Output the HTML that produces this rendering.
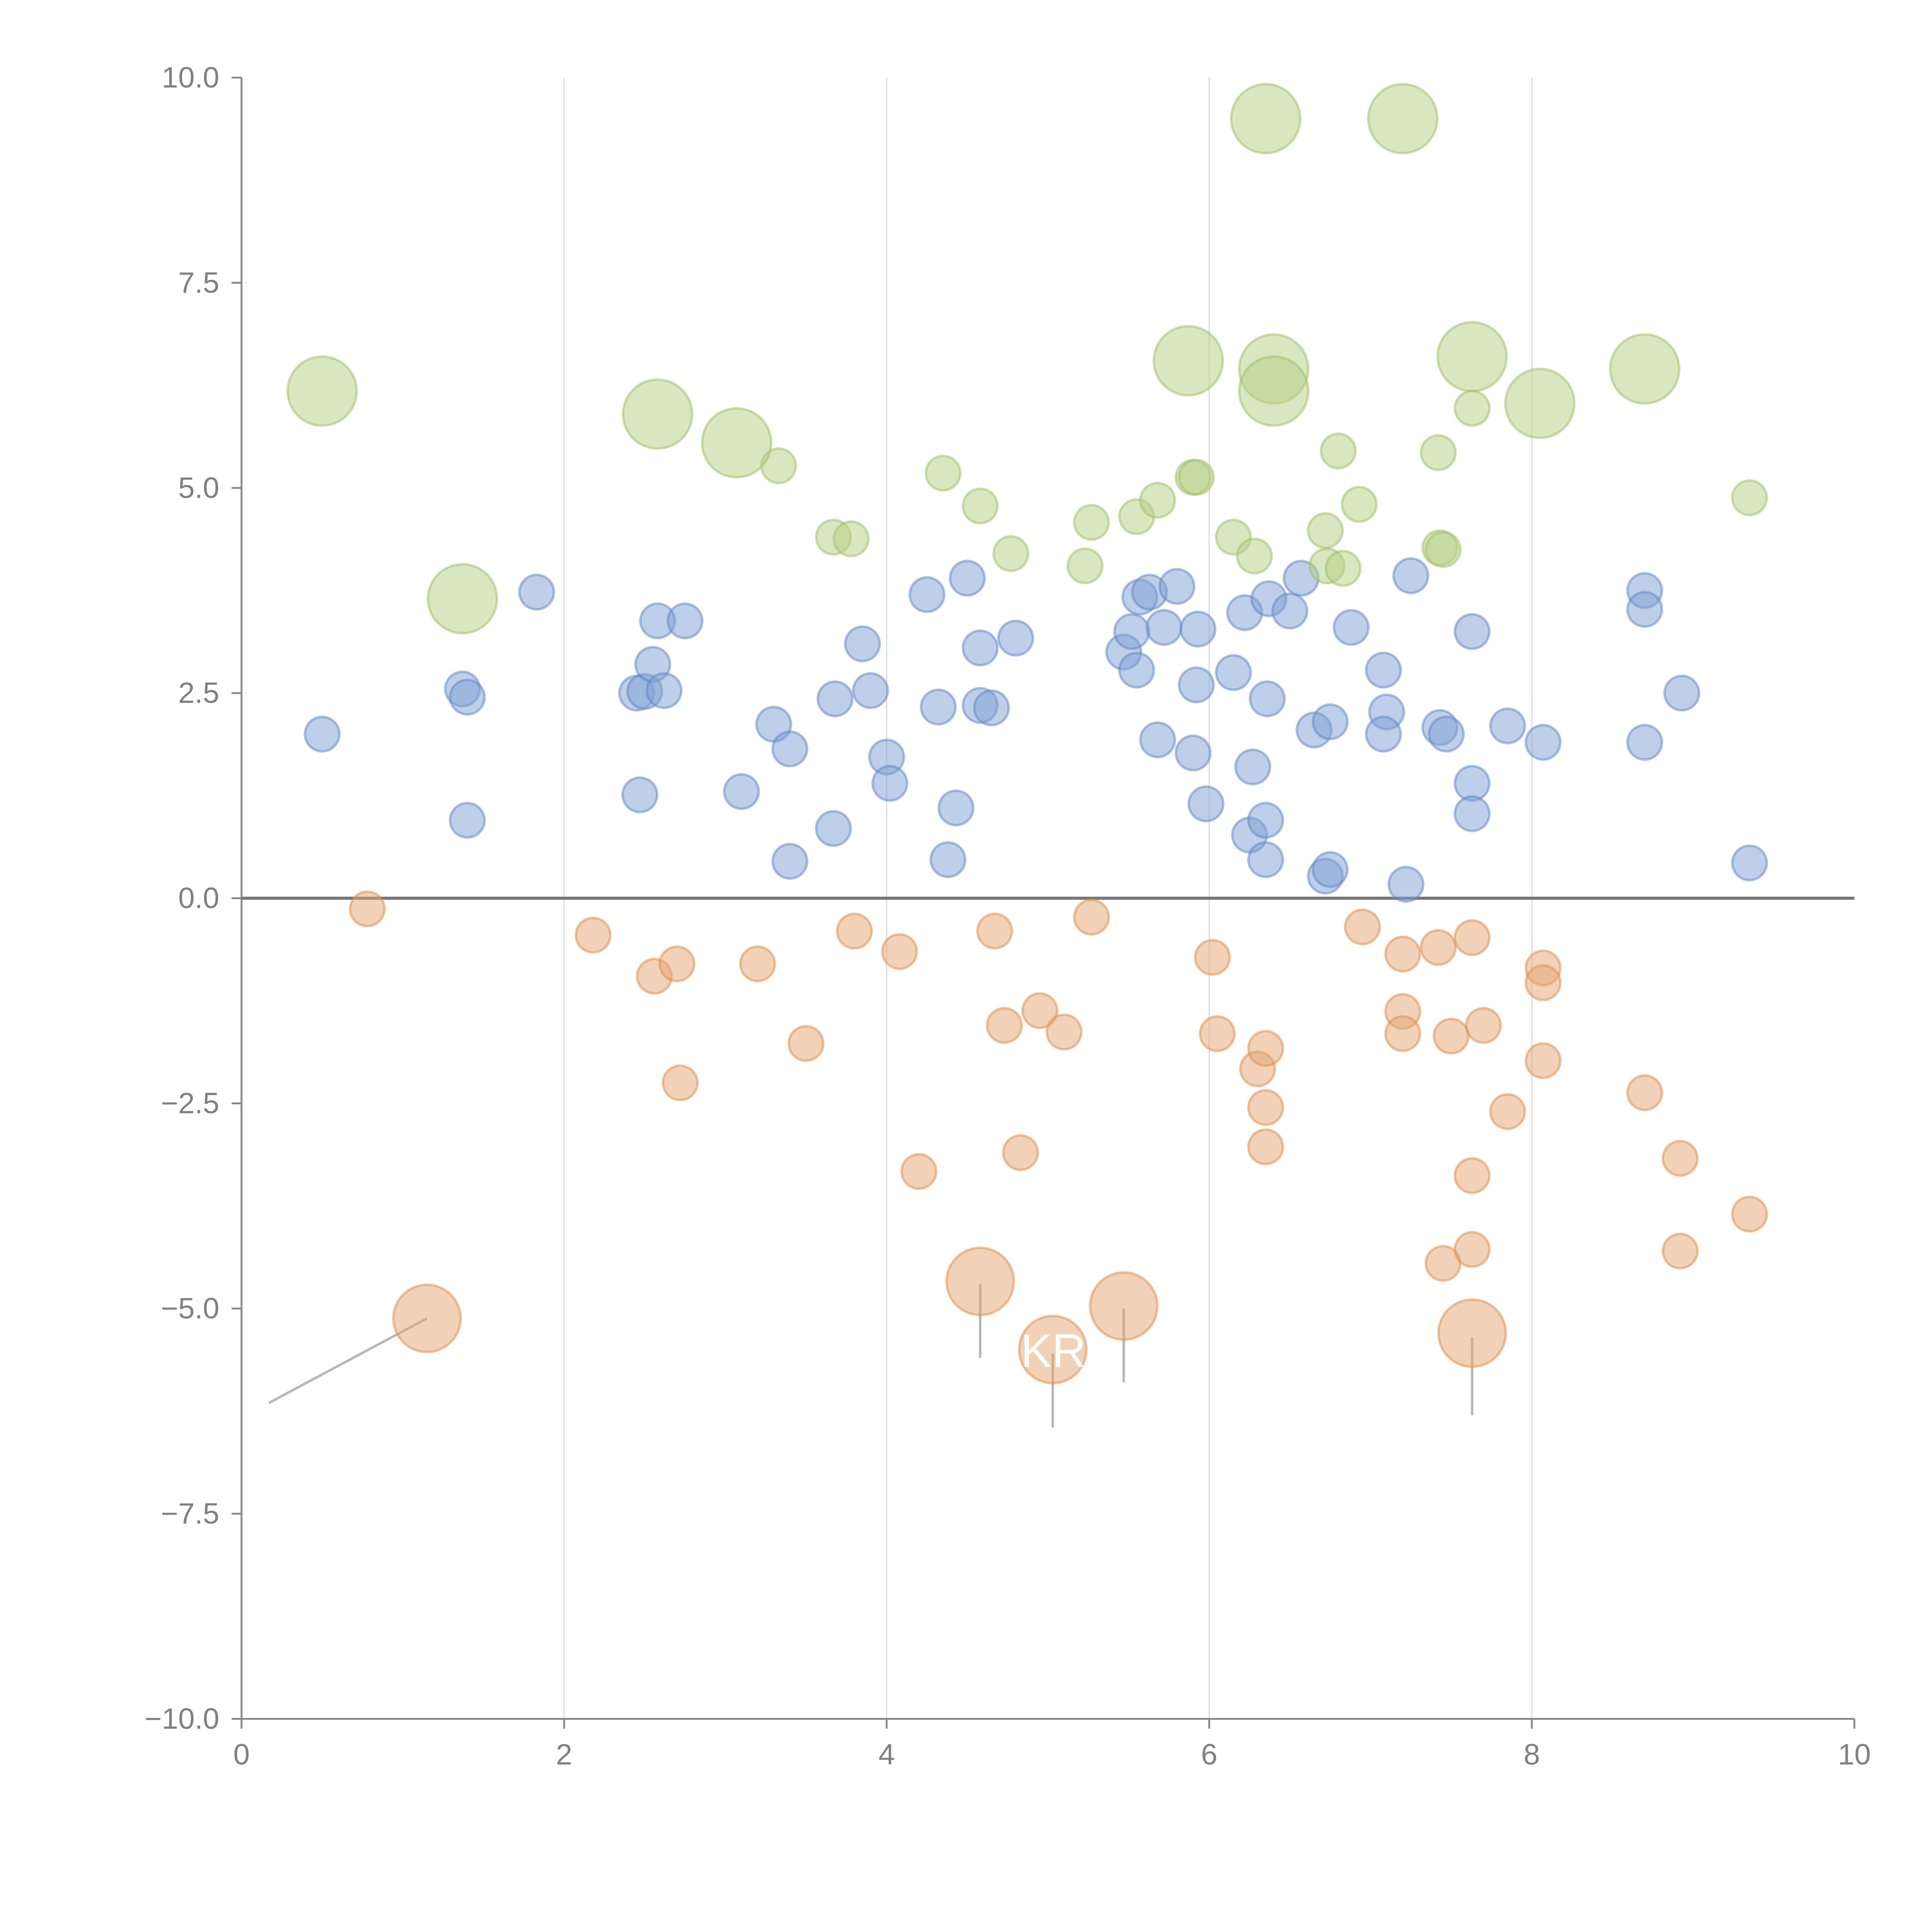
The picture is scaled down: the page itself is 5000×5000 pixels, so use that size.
<!DOCTYPE html>
<html><head><meta charset="utf-8"><style>
html,body{margin:0;padding:0;background:#fff;width:5000px;height:5000px;overflow:hidden}
svg{display:block}
text{font-family:"Liberation Sans",Arial,sans-serif}
</style></head><body>
<svg id="chart" width="5000" height="5000" viewBox="0 0 1568 1568" xmlns="http://www.w3.org/2000/svg">
<g id="grid"></g>
<g id="axes"></g>
<g id="leaders"></g>
<g id="marks"></g>
<g id="labels"></g>
</svg>
<script>
const xTicks = [0, 2, 4, 6, 8, 10];
const yTicks = [-10, -7.5, -5, -2.5, 0, 2.5, 5, 7.5, 10];
const yTickLabels = ["\u221210.0", "\u22127.5", "\u22125.0", "\u22122.5", "0.0", "2.5", "5.0", "7.5", "10.0"];

const blueX = [0.5,1.37,1.4,1.4,1.83,2.45,2.5,2.55,2.58,2.62,2.75,2.47,3.1,3.3,3.4,3.4,3.67,3.68,3.85,3.9,4.0,4.02,4.25,4.32,4.38,4.43,4.5,4.58,4.58,4.65,4.8,5.47,5.52,5.55,5.57,5.63,5.68,5.72,5.8,5.9,5.92,5.93,5.98,6.15,6.22,6.25,6.27,6.35,6.35,6.36,6.37,6.5,6.57,6.65,6.72,6.75,6.75,6.88,7.08,7.1,7.08,7.22,7.25,7.43,7.47,7.63,7.63,7.63,7.85,8.07,8.7,8.7,8.7,8.93,9.35];
const blueY = [2.0,2.55,2.45,0.95,3.73,2.5,2.52,2.85,3.38,2.53,3.38,1.26,1.3,2.12,1.82,0.45,0.85,2.43,3.1,2.53,1.72,1.4,3.7,2.33,0.47,1.1,3.9,3.05,2.35,2.32,3.17,3.0,3.25,2.78,3.67,3.73,1.93,3.3,3.8,1.77,2.6,3.28,1.15,2.75,3.48,0.77,1.6,0.47,0.95,2.43,3.65,3.5,3.9,2.05,0.27,0.35,2.15,3.3,2.78,2.27,2.0,0.17,3.93,2.08,2.0,3.25,1.4,1.03,2.1,1.9,3.75,3.52,1.9,2.5,0.43];
const blueSize = blueX.map(() => 1);

const orangeX = [0.78,2.18,2.56,2.7,2.72,3.2,3.5,3.8,4.08,4.2,4.67,4.73,4.83,4.95,5.1,5.27,6.02,6.05,6.3,6.35,6.35,6.35,6.95,7.2,7.2,7.2,7.42,7.45,7.5,7.63,7.63,7.63,7.7,7.85,8.07,8.07,8.07,8.7,8.92,8.92,9.35,1.15,4.58,5.03,5.47,7.63];
const orangeY = [-0.13,-0.45,-0.95,-0.8,-2.25,-0.8,-1.77,-0.4,-0.65,-3.33,-0.4,-1.55,-3.1,-1.37,-1.63,-0.23,-0.72,-1.65,-2.08,-1.83,-2.55,-3.03,-0.35,-0.68,-1.38,-1.65,-0.6,-4.45,-1.68,-0.48,-3.38,-4.28,-1.55,-2.6,-0.85,-1.03,-1.98,-2.37,-3.17,-4.3,-3.85,-5.12,-4.67,-5.5,-4.97,-5.3];
const orangeSize = [1,1,1,1,1,1,1,1,1,1,1,1,1,1,1,1,1,1,1,1,1,1,1,1,1,1,1,1,1,1,1,1,1,1,1,1,1,1,1,1,1,3.8,3.8,3.8,3.8,3.8];

const greenX = [3.33,3.67,3.78,4.35,4.58,4.77,5.23,5.27,5.55,5.68,5.9,5.92,6.15,6.28,6.72,6.73,6.83,6.8,6.93,7.42,7.43,7.45,7.63,9.35,0.5,1.37,2.58,3.07,5.87,6.35,6.4,6.4,7.2,7.63,8.05,8.7];
const greenY = [5.27,4.4,4.38,5.18,4.78,4.2,4.05,4.58,4.65,4.85,5.13,5.13,4.4,4.17,4.48,4.05,4.02,5.45,4.8,5.43,4.27,4.25,5.97,4.88,6.18,3.65,5.9,5.55,6.55,9.5,6.45,6.18,9.5,6.6,6.03,6.45];
const greenSize = [1,1,1,1,1,1,1,1,1,1,1,1,1,1,1,1,1,1,1,1,1,1,1,1,4,4,4,4,4,4,4,4,4,4,4,4];

const leaderX1 = [1.15,4.58,5.03,5.47,7.63];
const leaderY1 = [-5.12,-4.7,-5.55,-5.0,-5.35];
const leaderX2 = [0.17,4.58,5.03,5.47,7.63];
const leaderY2 = [-6.15,-5.6,-6.45,-5.9,-6.3];

const X0 = 196, X1 = 1505, Y0 = 1395, Y1 = 63;
const sx = v => X0 + (v - 0) / 10 * (X1 - X0);
const sy = v => Y0 - (v + 10) / 20 * (Y0 - Y1);
const rad = s => 14 * Math.sqrt(s);
const NS = "http://www.w3.org/2000/svg";
function mk(tag, attrs, parent) {
  const e = document.createElementNS(NS, tag);
  for (const k in attrs) e.setAttribute(k, attrs[k]);
  parent.appendChild(e);
  return e;
}
const grid = document.getElementById('grid');
const axes = document.getElementById('axes');
const marks = document.getElementById('marks');
const leaders = document.getElementById('leaders');
const labels = document.getElementById('labels');

xTicks.forEach(t => {
  if (t > 0 && t < 10) {
    const g = mk('line', {x1: sx(t), x2: sx(t), y1: Y1, y2: Y0, stroke: '#dcdcdc', 'stroke-width': 1}, grid);
    
    
  }
  const tk = mk('line', {x1: sx(t), x2: sx(t), y1: Y0, y2: Y0 + 8, stroke: '#888', 'stroke-width': 1.5}, axes);
  
  
  const tx = mk('text', {x: sx(t), y: Y0 + 37, 'text-anchor': 'middle', 'font-size': 24, fill: '#808080'}, axes);
  tx.textContent = String(t);
  
  
});
yTicks.forEach((t, i) => {
  const tk = mk('line', {x1: X0 - 8, x2: X0, y1: sy(t), y2: sy(t), stroke: '#888', 'stroke-width': 1.5}, axes);
  
  
  const tx = mk('text', {x: X0 - 18, y: sy(t) + 8, 'text-anchor': 'end', 'font-size': 24, fill: '#808080'}, axes);
  tx.textContent = yTickLabels[i];
  
  
});
const xa = mk('line', {x1: X0, x2: X1, y1: Y0, y2: Y0, stroke: '#888', 'stroke-width': 1.5}, axes);


const ya = mk('line', {x1: X0, x2: X0, y1: Y1, y2: Y0, stroke: '#888', 'stroke-width': 1.5}, axes);


const zl = mk('line', {x1: X0, x2: X1, y1: sy(0), y2: sy(0), stroke: '#777', 'stroke-width': 2.5}, axes);



function series(xs, ys, ss, fill, stroke, name) {
  xs.forEach((x, i) => {
    const c = mk('circle', {cx: sx(x), cy: sy(ys[i]), r: rad(ss[i]), fill: fill, 'fill-opacity': 0.5, stroke: stroke, 'stroke-opacity': 0.5, 'stroke-width': 2}, marks);
    
    
  });
}
series(blueX, blueY, blueSize, '#7d9fd3', '#5f86c4', 'blue-bubble');
series(orangeX, orangeY, orangeSize, '#e4a571', '#dd8c4a', 'orange-bubble');
series(greenX, greenY, greenSize, '#b4cf83', '#9cc067', 'green-bubble');

leaderX1.forEach((x, i) => {
  const l = mk('line', {x1: sx(x), y1: sy(leaderY1[i]), x2: sx(leaderX2[i]), y2: sy(leaderY2[i]), stroke: '#999', 'stroke-opacity': 0.7, 'stroke-width': 2}, leaders);
  
  
});
const kr = mk('text', {x: sx(5.03) - 26, y: sy(-5.5) + 14, 'font-size': 38, fill: '#fff'}, labels);
kr.textContent = 'KR';


</script>
</body></html>
